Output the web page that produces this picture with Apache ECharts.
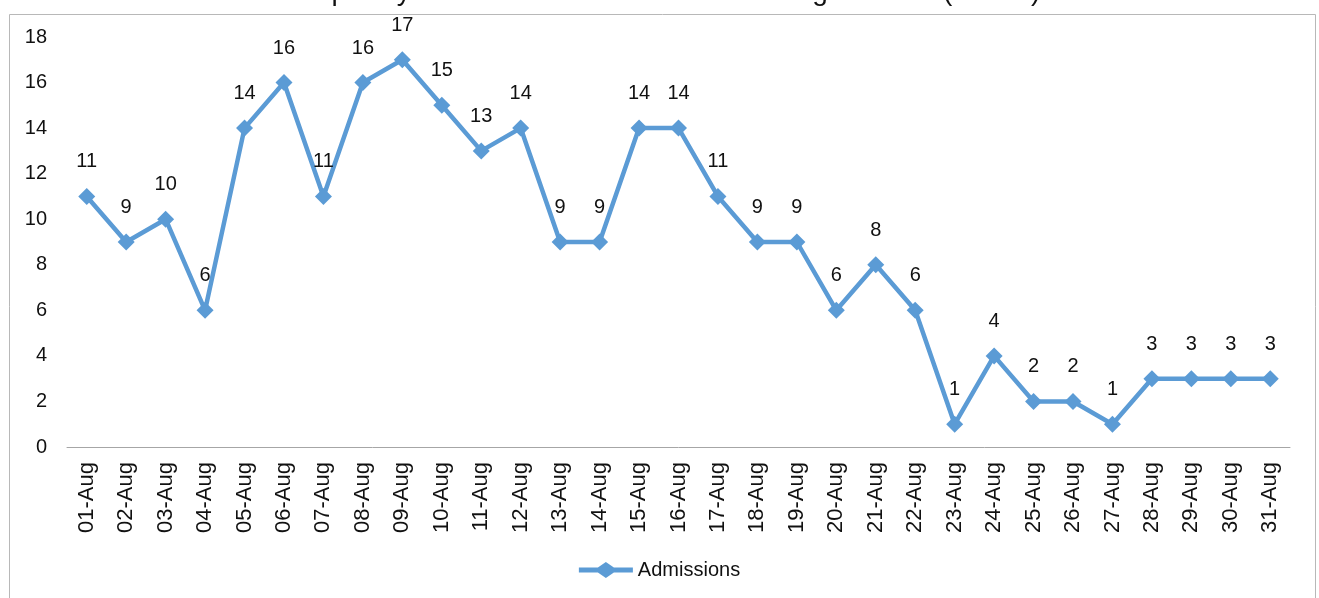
<!DOCTYPE html>
<html>
<head>
<meta charset="utf-8">
<script src="https://cdn.jsdelivr.net/npm/echarts@6/dist/echarts.min.js"></script>
<style>
html,body{margin:0;padding:0;background:#fff;}
#c{width:1319px;height:598px;}
</style>
</head>
<body>
<div id="c"></div>
<script>
const titleText = 'Temporary Accommodation Admissions August 2021 (n=269)';
const seriesName = 'Admissions';
const categories = ['01-Aug','02-Aug','03-Aug','04-Aug','05-Aug','06-Aug','07-Aug','08-Aug','09-Aug','10-Aug','11-Aug','12-Aug','13-Aug','14-Aug','15-Aug','16-Aug','17-Aug','18-Aug','19-Aug','20-Aug','21-Aug','22-Aug','23-Aug','24-Aug','25-Aug','26-Aug','27-Aug','28-Aug','29-Aug','30-Aug','31-Aug'];
const admissions = [11,9,10,6,14,16,11,16,17,15,13,14,9,9,14,14,11,9,9,6,8,6,1,4,2,2,1,3,3,3,3];

const chart = echarts.init(document.getElementById('c'));
const font = "'Liberation Sans', Arial, sans-serif";
const legendIcon = 'path://M0,5.5 H19 L27,0 L35,5.5 H54 V10.5 H35 L27,16 L19,10.5 H0 Z';
chart.setOption({
  backgroundColor: '#fff',
  animation: false,
  title: {
    text: titleText, left: 'center', top: -27,
    textStyle: {fontFamily: font, fontSize: 28, fontWeight: 'normal', color: '#111'}
  },
  graphic: [{
    type: 'rect', left: 7, top: 12, z: -1,
    shape: {width: 1306, height: 600},
    style: {fill: 'none', stroke: '#b8b8b8', lineWidth: 1}
  }],
  grid: {left: 67, right: 29, top: 37, bottom: 151, containLabel: false},
  legend: {
    bottom: 13, left: 'center',
    itemWidth: 54, itemHeight: 16, itemGap: 4,
    textStyle: {fontFamily: font, fontSize: 20, color: '#111'},
    data: [{name: seriesName, icon: legendIcon}]
  },
  xAxis: {
    type: 'category', data: categories, boundaryGap: true,
    axisLine: {lineStyle: {color: '#a6a6a6', width: 1}},
    axisTick: {show: false},
    axisLabel: {rotate: 90, interval: 0, margin: 15, fontFamily: font, fontSize: 22, color: '#111'}
  },
  yAxis: {
    type: 'value', min: 0, max: 18, interval: 2,
    axisLine: {show: false}, axisTick: {show: false},
    splitLine: {show: false},
    axisLabel: {margin: 20, fontFamily: font, fontSize: 20, color: '#111'}
  },
  series: [{
    name: seriesName, type: 'line', data: admissions,
    symbol: 'diamond', symbolSize: 17,
    lineStyle: {color: '#5b9bd5', width: 4.5},
    itemStyle: {color: '#5b9bd5'},
    label: {show: true, position: 'top', distance: 16, fontFamily: font, fontSize: 20, color: '#111'}
  }]
});
</script>
</body>
</html>
